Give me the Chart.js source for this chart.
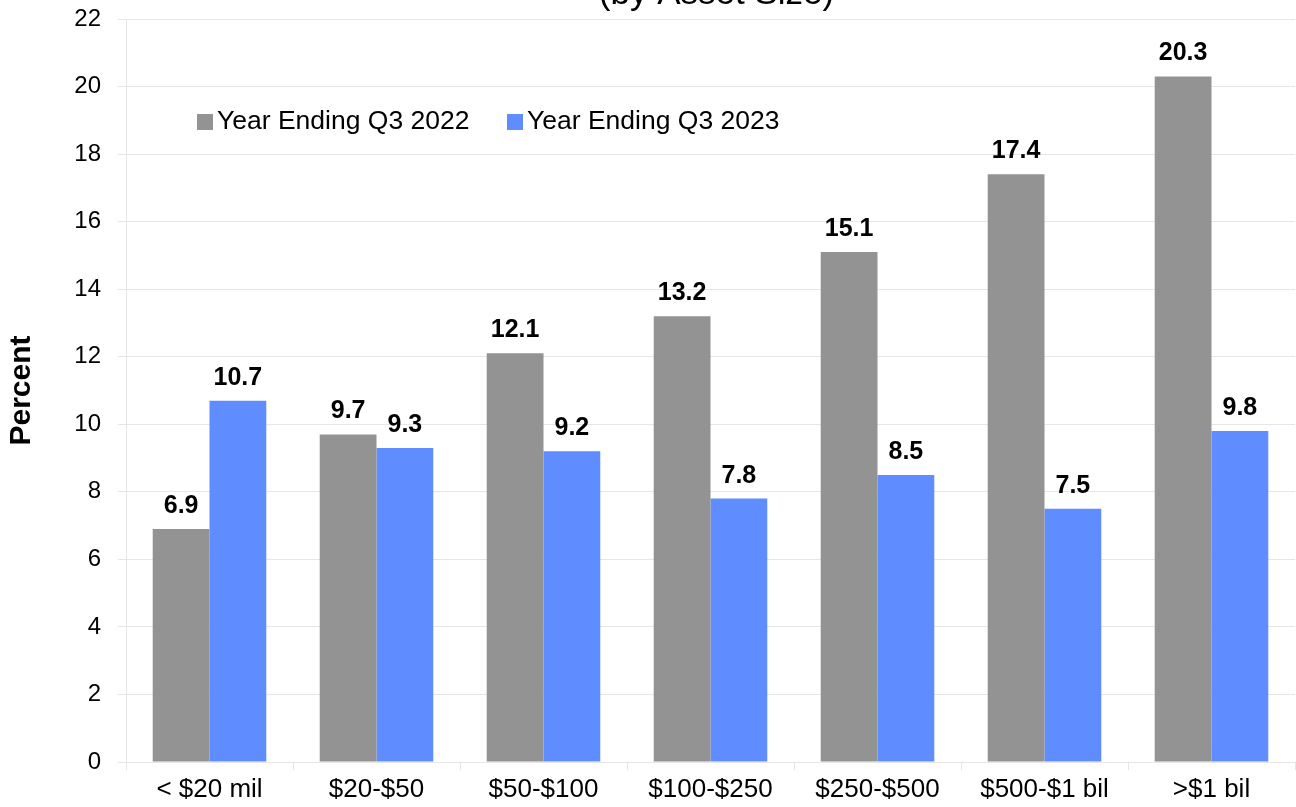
<!DOCTYPE html>
<html>
<head>
<meta charset="utf-8">
<script src="https://cdn.jsdelivr.net/npm/chart.js@4/dist/chart.umd.min.js"></script>
<style>
  html, body { margin: 0; padding: 0; background: #fff; }
  #wrap { width: 1296px; height: 807px; position: relative; }
</style>
</head>
<body>
<div id="wrap"><canvas id="chart"></canvas></div>
<script>
// categories and series
const categories = ['< $20 mil', '$20-$50', '$50-$100', '$100-$250', '$250-$500', '$500-$1 bil', '>$1 bil'];
const seriesNames = ['Year Ending Q3 2022', 'Year Ending Q3 2023'];
const q3_2022 = [6.9, 9.7, 12.1, 13.2, 15.1, 17.4, 20.3];
const q3_2023 = [10.7, 9.3, 9.2, 7.8, 8.5, 7.5, 9.8];
const yTicks = [0, 2, 4, 6, 8, 10, 12, 14, 16, 18, 20, 22];
const titleText = '(by Asset Size)';

const FONT = 'Arial, "Liberation Sans", sans-serif';
const GRID = '#e6e6e6';
const colors = ['#939393', '#5f8cff'];

// title line (mostly off the top edge), value labels, legend inside plot
const extras = {
    id: 'extras',
    afterDatasetsDraw(chart) {
        const ctx = chart.ctx;
        const area = chart.chartArea;
        ctx.save();

        // title
        ctx.fillStyle = '#000';
        ctx.font = '35px ' + FONT;
        ctx.textAlign = 'center';
        ctx.textBaseline = 'alphabetic';
        ctx.fillText(titleText, (area.left + area.right) / 2 + 6, 4);

        // value labels
        ctx.font = 'bold 25px ' + FONT;
        chart.data.datasets.forEach((ds, i) => {
            const meta = chart.getDatasetMeta(i);
            meta.data.forEach((bar, j) => {
                ctx.fillText(ds.data[j].toFixed(1), bar.x, bar.y - 16);
            });
        });

        // legend
        ctx.font = '26.5px ' + FONT;
        ctx.textAlign = 'left';
        ctx.textBaseline = 'middle';
        const legendX = [197, 507];
        const legendY = 122;
        seriesNames.forEach((name, i) => {
            ctx.fillStyle = colors[i];
            ctx.fillRect(legendX[i], legendY - 8, 16, 16);
            ctx.fillStyle = '#000';
            ctx.fillText(name, legendX[i] + 20, legendY);
        });

        ctx.restore();
    }
};

new Chart(document.getElementById('chart'), {
    type: 'bar',
    data: {
        labels: categories,
        datasets: [
            {
                label: seriesNames[0],
                data: q3_2022,
                backgroundColor: colors[0],
                borderWidth: 0,
                categoryPercentage: 0.68,
                barPercentage: 1.0
            },
            {
                label: seriesNames[1],
                data: q3_2023,
                backgroundColor: colors[1],
                borderWidth: 0,
                categoryPercentage: 0.68,
                barPercentage: 1.0
            }
        ]
    },
    options: {
        responsive: true,
        maintainAspectRatio: false,
        animation: false,
        layout: { padding: { top: 19, right: 1, left: 0, bottom: 0 } },
        plugins: {
            legend: { display: false },
            tooltip: { enabled: false },
            title: { display: false }
        },
        scales: {
            x: {
                offset: true,
                grid: {
                    offset: true,
                    drawOnChartArea: false,
                    drawTicks: true,
                    tickLength: 8,
                    color: GRID
                },
                border: { color: GRID },
                ticks: {
                    color: '#000',
                    font: { family: FONT, size: 26 },
                    padding: 4,
                    maxRotation: 0,
                    autoSkip: false
                },
                afterFit(scale) {
                    scale.height = 45;
                    scale.paddingLeft = 0;
                    scale.paddingRight = 0;
                }
            },
            y: {
                min: 0,
                max: 22,
                afterBuildTicks(scale) { scale.ticks = yTicks.map(v => ({ value: v })); },
                grid: { color: GRID, tickLength: 8 },
                border: { color: GRID },
                ticks: {
                    color: '#000',
                    font: { family: FONT, size: 24 },
                    padding: 17
                },
                title: {
                    display: true,
                    text: 'Percent',
                    color: '#000',
                    font: { family: FONT, size: 30, weight: 'bold' },
                    padding: { top: 4, bottom: 0 }
                },
                afterFit(scale) {
                    scale.width = 126;
                    scale.paddingTop = 0;
                    scale.paddingBottom = 0;
                }
            }
        }
    },
    plugins: [extras]
});
</script>
</body>
</html>
